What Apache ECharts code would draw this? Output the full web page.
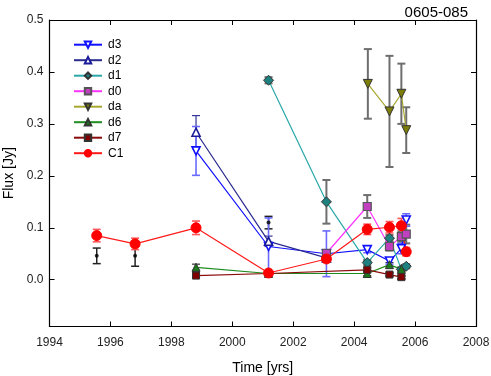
<!DOCTYPE html>
<html>
<head>
<meta charset="utf-8">
<script src="https://cdn.jsdelivr.net/npm/echarts@6/dist/echarts.min.js"></script>
<style>
  html, body { margin: 0; padding: 0; background: #fff; }
  #chart { width: 491px; height: 376px; }
</style>
</head>
<body>
<div id="chart"></div>
<script>
// epochs (yrs), flux (Jy), 1-sigma errors
const c1Years = [1995.55, 1996.81, 1998.81, 2001.19, 2003.09, 2004.43, 2005.16, 2005.55, 2005.71];
const c1Flux  = [0.085, 0.069, 0.100, 0.013, 0.040, 0.097, 0.101, 0.104, 0.054];
const c1Err   = [0.012, 0.011, 0.013, 0.004, 0.006, 0.010, 0.011, 0.014, 0.008];

const d3Years = [1998.81, 2001.19, 2003.09, 2004.43, 2005.16, 2005.55, 2005.71];
const d3Flux  = [0.248, 0.064, 0.050, 0.058, 0.036, 0.060, 0.115];
const d3Err   = [0.047, 0.055, 0.044, 0.006, 0.006, 0.010, 0.012];

const d2Years = [1998.81, 2001.19, 2003.09];
const d2Flux  = [0.284, 0.074, 0.042];
const d2Err   = [0.032, 0.010, 0.005];

const d1Years = [2001.19, 2003.09, 2004.43, 2005.16, 2005.55, 2005.71];
const d1Flux  = [0.384, 0.150, 0.033, 0.080, 0.020, 0.026];
const d1Err   = [0.006, 0.042, 0.005, 0.006, 0.004, 0.004];

const d0Years = [2003.09, 2004.43, 2005.16, 2005.55, 2005.71];
const d0Flux  = [0.051, 0.141, 0.064, 0.083, 0.088];
const d0Err   = [0.004, 0.022, 0.008, 0.010, 0.018];

const daYears = [2004.45, 2005.16, 2005.55, 2005.71];
const daFlux  = [0.377, 0.324, 0.358, 0.288];
const daErr   = [0.067, 0.107, 0.058, 0.044];

const d6Years = [1998.81, 2001.19, 2004.43, 2005.16, 2005.55];
const d6Flux  = [0.024, 0.012, 0.012, 0.029, 0.020];
const d6Err   = [0.006, 0.003, 0.004, 0.004, 0.004];

const d7Years = [1998.81, 2001.19, 2004.43, 2005.16, 2005.55];
const d7Flux  = [0.008, 0.012, 0.019, 0.010, 0.005];
const d7Err   = [0.004, 0.003, 0.004, 0.003, 0.003];

// unlabelled black points
const bkYears = [1995.55, 1996.81, 1998.81, 2001.19, 2005.16, 2005.55];
const bkFlux  = [0.046, 0.046, 0.010, 0.110, 0.010, 0.004];
const bkErr   = [0.015, 0.020, 0.005, 0.012, 0.003, 0.003];

const yTicks = [0, 0.1, 0.2, 0.3, 0.4, 0.5];

const pts = (xs, ys) => xs.map((x, i) => [x, ys[i]]);
const bars = (xs, ys, es) => xs.map((x, i) => [x, ys[i] - es[i], ys[i] + es[i]]);

// error bar drawer
function errSeries(xs, ys, es, color, width) {
  return {
    type: 'custom',
    z: 1,
    silent: true,
    data: bars(xs, ys, es),
    renderItem: function (params, api) {
      const x = api.value(0);
      const lo = api.coord([x, api.value(1)]);
      const hi = api.coord([x, api.value(2)]);
      const st = { stroke: color, lineWidth: width };
      return {
        type: 'group',
        children: [
          { type: 'line', shape: { x1: lo[0], y1: lo[1], x2: hi[0], y2: hi[1] }, style: st },
          { type: 'line', shape: { x1: lo[0] - 4, y1: lo[1], x2: lo[0] + 4, y2: lo[1] }, style: st },
          { type: 'line', shape: { x1: hi[0] - 4, y1: hi[1], x2: hi[0] + 4, y2: hi[1] }, style: st }
        ]
      };
    }
  };
}

function lineSeries(name, xs, ys, o) {
  return {
    name: name,
    type: 'line',
    z: 3,
    data: pts(xs, ys),
    symbol: o.symbol,
    symbolSize: o.size,
    symbolRotate: o.rotate || 0,
    lineStyle: { color: o.line, width: 1.2 },
    itemStyle: { color: o.fill, borderColor: o.border, borderWidth: o.bw || 1 }
  };
}

const chart = echarts.init(document.getElementById('chart'));

const axisText = { fontFamily: 'Liberation Sans', fontSize: 12, color: '#222' };
const nameText = { fontFamily: 'Liberation Sans', fontSize: 14, color: '#000' };
const frame = { onZero: false, lineStyle: { color: '#000', width: 1.2 } };
const inTick = { show: true, inside: true, length: 5, lineStyle: { color: '#000' } };

chart.setOption({
  animation: false,
  title: {
    text: '0605-085',
    right: 18,
    top: 0,
    textStyle: { fontFamily: 'Liberation Sans', fontSize: 15, fontWeight: 'normal', color: '#000' }
  },
  grid: { left: 49.5, right: 15, top: 20, bottom: 49.5, containLabel: false, outerBoundsMode: 'none' },
  legend: {
    orient: 'vertical',
    left: 73,
    top: 38.7,
    padding: 0,
    itemWidth: 28,
    itemHeight: 8,
    itemGap: 3.5,
    textStyle: { fontFamily: 'Liberation Sans', fontSize: 12, color: '#000', padding: [0, 0, 0, 1] },
    data: ['d3', 'd2', 'd1', 'd0', 'da', 'd6', 'd7', 'C1']
  },
  xAxis: [{
    type: 'value',
    min: 1994, max: 2008, interval: 2,
    name: 'Time [yrs]',
    nameLocation: 'middle',
    nameGap: 35,
    nameTextStyle: nameText,
    axisLine: frame,
    axisTick: inTick,
    axisLabel: Object.assign({ margin: 10, formatter: v => String(v) }, axisText),
    splitLine: { show: false }
  }, {
    type: 'value', position: 'top',
    min: 1994, max: 2008, interval: 2,
    axisLine: frame,
    axisTick: inTick,
    axisLabel: { show: false },
    splitLine: { show: false }
  }],
  yAxis: [{
    type: 'value',
    min: -0.09, max: 0.5,
    name: 'Flux [Jy]',
    nameLocation: 'middle',
    nameGap: 33,
    nameTextStyle: nameText,
    axisLine: Object.assign({ show: true }, frame),
    axisTick: Object.assign({ customValues: yTicks }, inTick),
    axisLabel: Object.assign({ margin: 6, customValues: yTicks, formatter: v => v.toFixed(1) }, axisText),
    splitLine: { show: false }
  }, {
    type: 'value', position: 'right',
    min: -0.09, max: 0.5,
    axisLine: Object.assign({ show: true }, frame),
    axisTick: Object.assign({ customValues: yTicks }, inTick),
    axisLabel: { show: false },
    splitLine: { show: false }
  }],
  series: [
    errSeries(bkYears, bkFlux, bkErr, '#222', 1.5),
    errSeries(d7Years, d7Flux, d7Err, '#333', 1.2),
    errSeries(d6Years, d6Flux, d6Err, '#333', 1.2),
    errSeries(daYears, daFlux, daErr, '#6e6e6e', 2),
    errSeries(d0Years, d0Flux, d0Err, '#6e6e6e', 2),
    errSeries(d1Years, d1Flux, d1Err, '#6e6e6e', 2),
    errSeries(d2Years, d2Flux, d2Err, '#33339a', 1.2),
    errSeries(d3Years, d3Flux, d3Err, '#6a6aff', 1.6),
    errSeries(c1Years, c1Flux, c1Err, '#ff5a5a', 1.6),
    {
      type: 'scatter', z: 2, silent: true,
      data: pts(bkYears, bkFlux),
      symbol: 'circle', symbolSize: 4,
      itemStyle: { color: '#000' }
    },
    lineSeries('d3', d3Years, d3Flux, { symbol: 'triangle', rotate: 180, size: 8, line: '#1010ff', fill: '#fff', border: '#1010ff', bw: 1.6 }),
    lineSeries('d2', d2Years, d2Flux, { symbol: 'triangle', size: 8, line: '#2a2a90', fill: '#fff', border: '#1a1a9a', bw: 1.6 }),
    lineSeries('d1', d1Years, d1Flux, { symbol: 'diamond', size: 10, line: '#2aa8a8', fill: '#1f8080', border: '#333', bw: 1 }),
    lineSeries('d0', d0Years, d0Flux, { symbol: 'rect', size: 8, line: '#ff33ff', fill: '#c040c0', border: '#555', bw: 1.2 }),
    lineSeries('da', daYears, daFlux, { symbol: 'triangle', rotate: 180, size: 9, line: '#a8a830', fill: '#7d7d0a', border: '#333', bw: 1 }),
    lineSeries('d6', d6Years, d6Flux, { symbol: 'triangle', size: 8, line: '#1e8c1e', fill: '#1b7a1b', border: '#333', bw: 1 }),
    lineSeries('d7', d7Years, d7Flux, { symbol: 'rect', size: 7, line: '#8b0a0a', fill: '#800000', border: '#333', bw: 1 }),
    lineSeries('C1', c1Years, c1Flux, { symbol: 'circle', size: 10, line: '#ff1a1a', fill: '#ff0000', border: '#ff0000', bw: 0 })
  ]
});
</script>
</body>
</html>
